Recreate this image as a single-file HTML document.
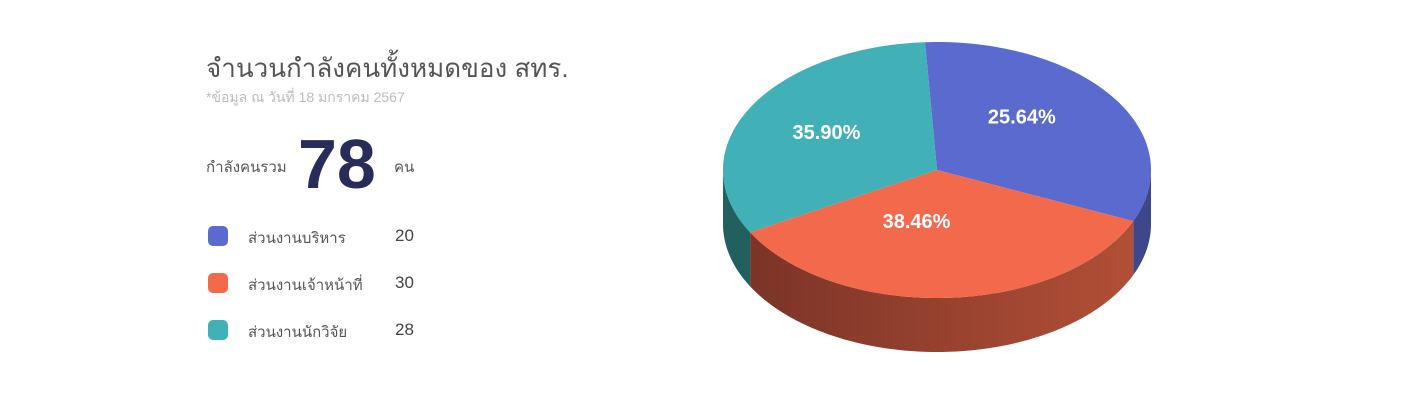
<!DOCTYPE html>
<html><head><meta charset="utf-8">
<style>
body{margin:0;width:1407px;height:411px;background:#fff;overflow:hidden;font-family:"Liberation Sans","DejaVu Sans","Noto Sans CJK SC",sans-serif;position:relative}
.t{position:absolute;white-space:nowrap}
.sw{position:absolute;width:20px;height:20px;border-radius:5px}
</style></head><body>
<div class="t" style="left:206px;top:48px;font-size:26px;color:#555">จำนวนกำลังคนทั้งหมดของ สทร.</div>
<div class="t" style="left:206px;top:87px;font-size:14px;color:#bbb">*ข้อมูล ณ วันที่ 18 มกราคม 2567</div>
<div class="t" style="left:206px;top:155px;font-size:15px;color:#555">กำลังคนรวม</div>
<div class="t" style="left:298px;top:124px;font-size:70px;font-weight:bold;color:#272c5a;line-height:80px">78</div>
<div class="t" style="left:394px;top:155px;font-size:15px;color:#555">คน</div>
<div id="legend"></div>
<svg id="pie" width="1407" height="411" style="position:absolute;left:0;top:0"></svg>
<script>
const categories=["ส่วนงานบริหาร","ส่วนงานเจ้าหน้าที่","ส่วนงานนักวิจัย"];
const values=[20,30,28];
const topColors=["#5b6acf","#f3694b","#41b0b7"];
const sideColors=["#3d478a","#9a4130","#225f5f"];
const legendTops=[226,273,320];
const lg=document.getElementById('legend');
categories.forEach((c,i)=>{
  const sw=document.createElement('div');sw.className='sw';
  
  
  sw.style.cssText=`left:208px;top:${legendTops[i]}px;background:${topColors[i]}`;lg.appendChild(sw);
  const l=document.createElement('div');l.className='t';
  
  
  l.style.cssText=`left:248px;top:${legendTops[i]}px;font-size:15px;color:#555`;l.textContent=c;lg.appendChild(l);
  const v=document.createElement('div');v.className='t';
  
  
  v.style.cssText=`left:395px;top:${legendTops[i]}px;font-size:17px;color:#444`;v.textContent=values[i];lg.appendChild(v);
});
const svg=document.getElementById('pie'),NS='http://www.w3.org/2000/svg';
const cx=937,cy=170,rx=214,ry=128,depth=54;
const total=values.reduce((a,b)=>a+b,0);
let start=-80;
const g=a=>a+17*Math.sin((a+29)*Math.PI/180);
const P=(a,dy=0)=>{const r=g(a)*Math.PI/180;return [cx+rx*Math.cos(r),cy+ry*Math.sin(r)+dy];};
const slices=values.map(v=>{const s=start;start+=v/total*360;return [s,start];});
function arcPts(a0,a1,dy){const pts=[];const n=Math.max(2,Math.ceil(Math.abs(a1-a0)));for(let k=0;k<=n;k++)pts.push(P(a0+(a1-a0)*k/n,dy));return pts;}
const defs=document.createElementNS(NS,'defs');
defs.innerHTML='<linearGradient id="og" x1="0" x2="1"><stop offset="0" stop-color="#7b3427"/><stop offset="1" stop-color="#b24f37"/></linearGradient>';
svg.appendChild(defs);
slices.forEach(([a0,a1],i)=>{
  [[a0,a1,0],[a0,a1,-360],[a0,a1,360]].forEach(([b0,b1,off])=>{
    const d0=g(b0)+off,d1=g(b1)+off;
    const s=Math.max(d0,0),e=Math.min(d1,180);
    if(e<=s)return;
    const pts=[];const n=Math.ceil(e-s)+1;
    for(let k=0;k<=n;k++){const a=(s+(e-s)*k/n)*Math.PI/180;pts.push([cx+rx*Math.cos(a),cy+ry*Math.sin(a)]);}
    const bot=pts.slice().reverse().map(q=>[q[0],q[1]+depth]);
    const p=document.createElementNS(NS,'path');
    p.setAttribute('d','M'+pts.concat(bot).map(q=>q.join(',')).join('L')+'Z');
    p.setAttribute('fill',i===1?'url(#og)':sideColors[i]);
    
    
    svg.appendChild(p);
  });
});
slices.forEach(([a0,a1],i)=>{
  const pts=arcPts(a0,a1,0);
  const p=document.createElementNS(NS,'path');
  p.setAttribute('d',`M${cx},${cy}L`+pts.map(q=>q.join(',')).join('L')+'Z');
  p.setAttribute('fill',topColors[i]);
  
  
  svg.appendChild(p);
  const m=g((a0+a1)/2)*Math.PI/180;
  const t=document.createElementNS(NS,'text');
  t.setAttribute('x',cx+rx*0.52*Math.cos(m)-6);t.setAttribute('y',cy+ry*0.52*Math.sin(m)-8);
  t.setAttribute('text-anchor','middle');t.setAttribute('fill','#fff');
  t.setAttribute('font-size','20');t.setAttribute('font-weight','bold');
  t.setAttribute('font-family','Liberation Sans, sans-serif');
  t.textContent=(values[i]/total*100).toFixed(2)+'%';
  
  
  svg.appendChild(t);
});
</script>
</body></html>
